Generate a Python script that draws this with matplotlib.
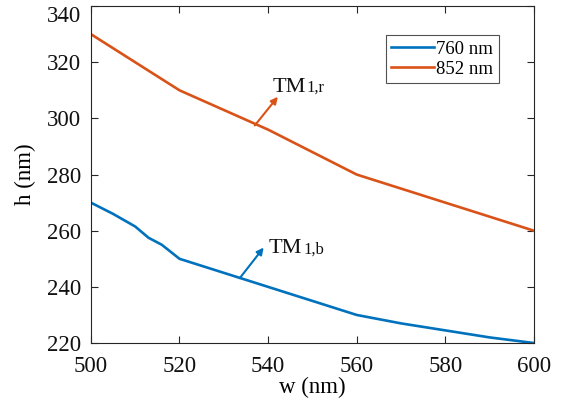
import matplotlib
matplotlib.use("Agg")
import matplotlib.pyplot as plt
import matplotlib.transforms as mtransforms

plt.rcParams['font.family'] = ['Liberation Serif', 'DejaVu Serif']

w_blue = [500, 505, 510, 513, 516, 520, 530, 540, 550, 560, 570, 580, 590, 600]
h_blue = [270, 266, 261.5, 257.5, 255, 250, 245, 240, 235, 230, 227, 224.5, 222, 220]
w_red = [500, 510, 520, 530, 540, 550, 560, 570, 580, 590, 600]
h_red = [330, 320, 310, 303, 296, 288, 280, 275, 270, 265, 260]
labels = ['760 nm', '852 nm']
colors = ['#0072BD', '#D95319']
xticks = [500, 520, 540, 560, 580, 600]
yticks = [220, 240, 260, 280, 300, 320, 340]

fig = plt.figure(figsize=(5.68, 4.05), dpi=100)
ax = fig.add_axes([0.160, 0.153, 0.780, 0.832])
ax.plot(w_blue, h_blue, color=colors[0], lw=1.9, label=labels[0])
ax.plot(w_red, h_red, color=colors[1], lw=1.9, label=labels[1])
ax.set_xlim(500, 600)
ax.set_ylim(220, 340)
ax.set_xticks(xticks)
ax.set_yticks(yticks)
ax.tick_params(direction='in', top=True, right=True, length=5, width=0.8,
               labelsize=16.5, color='#262626', labelcolor='#111111')
ax.tick_params(axis='x', pad=9)
ax.tick_params(axis='y', pad=7)
for s in ax.spines.values():
    s.set_color('#262626')
    s.set_linewidth(0.8)
ax.set_xlabel('w (nm)', fontsize=16.5, labelpad=0)
ax.set_ylabel('h (nm)', fontsize=16.5, labelpad=8)

# shift the top y tick label down so it stays inside the figure (as in reference)
fig.canvas.draw()
top_lbl = ax.get_yticklabels()[-1]
top_lbl.set_transform(top_lbl.get_transform() +
                      mtransforms.ScaledTranslation(0, -6 / 72, fig.dpi_scale_trans))

leg = ax.legend(loc='upper right', bbox_to_anchor=(0.921, 0.914), fontsize=13.5,
                frameon=True, fancybox=False, handlelength=2.3, handletextpad=0.1,
                borderpad=0.3, labelspacing=0.15, borderaxespad=0)
leg.get_frame().set_edgecolor('#262626')
leg.get_frame().set_linewidth(0.8)

# annotations
ax.annotate('', xy=(542.2, 307.7), xytext=(537.0, 297.5),
            arrowprops=dict(arrowstyle='-|>', color=colors[1], lw=1.5,
                            mutation_scale=10, shrinkA=0, shrinkB=0))
ax.annotate('', xy=(539.0, 254.0), xytext=(533.6, 243.1),
            arrowprops=dict(arrowstyle='-|>', color=colors[0], lw=1.5,
                            mutation_scale=10, shrinkA=0, shrinkB=0))
ax.text(541.0, 309.4, 'TM', fontsize=16, ha='left', va='baseline', color='#111111')
ax.annotate('1,r', xy=(541.0, 309.4), xytext=(24.5, 0), textcoords='offset points',
            fontsize=12, ha='left', va='baseline', color='#111111')
ax.text(540.2, 252.0, 'TM', fontsize=16, ha='left', va='baseline', color='#111111')
ax.annotate('1,b', xy=(540.2, 252.0), xytext=(24.5, 0), textcoords='offset points',
            fontsize=12, ha='left', va='baseline', color='#111111')

fig.savefig('out.png', dpi=100)
